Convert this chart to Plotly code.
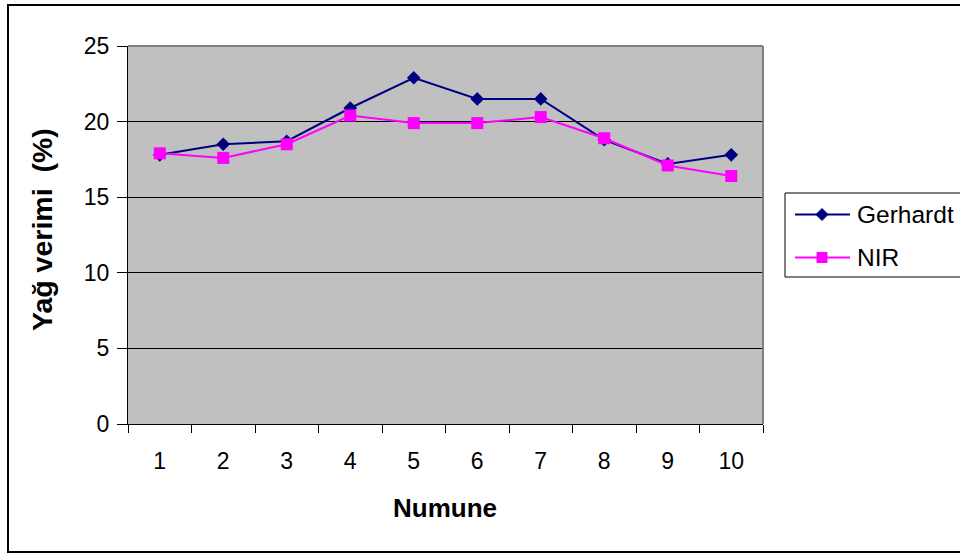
import plotly.graph_objects as go

categories = ["1", "2", "3", "4", "5", "6", "7", "8", "9", "10"]
gerhardt = [17.8, 18.5, 18.7, 20.9, 22.9, 21.5, 21.5, 18.8, 17.2, 17.8]
nir = [17.9, 17.6, 18.5, 20.4, 19.9, 19.9, 20.3, 18.9, 17.1, 16.4]
y_ticks = [0, 5, 10, 15, 20, 25]
series_names = ["Gerhardt", "NIR"]
series_colors = ["#000080", "#FF00FF"]

W, H = 960, 554
L, R, T, B = 128, 763, 46, 424

def px_x(px):
    return (px - L) / (R - L)

def px_y(py):
    return (B - py) / (B - T)

fig = go.Figure()
fig.add_trace(go.Scatter(
    x=categories, y=gerhardt, name=series_names[0], mode="lines+markers",
    line=dict(color=series_colors[0], width=2),
    marker=dict(symbol="diamond", size=10.5, color=series_colors[0]),
    showlegend=False,
))
fig.add_trace(go.Scatter(
    x=categories, y=nir, name=series_names[1], mode="lines+markers",
    line=dict(color=series_colors[1], width=2),
    marker=dict(symbol="square", size=12, color=series_colors[1]),
    showlegend=False,
))

font_family = "Liberation Sans, Arial, sans-serif"

# manual legend (Excel-style) --------------------------------------------
legend_shapes = [
    dict(type="rect", xref="paper", yref="paper",
         x0=px_x(785), x1=px_x(990), y0=px_y(277), y1=px_y(193),
         line=dict(color="black", width=1), fillcolor="white", layer="above"),
]
legend_annots = []
rows_y = [214.5, 257.5]
for i, (name, col) in enumerate(zip(series_names, series_colors)):
    yy = rows_y[i]
    legend_shapes.append(dict(type="line", xref="paper", yref="paper",
                              x0=px_x(795), x1=px_x(850), y0=px_y(yy), y1=px_y(yy),
                              line=dict(color=col, width=2), layer="above"))
    if i == 0:
        path = "M {} {} L {} {} L {} {} L {} {} Z".format(
            px_x(822), px_y(yy - 6), px_x(828), px_y(yy),
            px_x(822), px_y(yy + 6), px_x(816), px_y(yy))
        legend_shapes.append(dict(type="path", xref="paper", yref="paper", path=path,
                                  fillcolor=col, line=dict(color=col, width=1),
                                  layer="above"))
    else:
        legend_shapes.append(dict(type="rect", xref="paper", yref="paper",
                                  x0=px_x(817), x1=px_x(827),
                                  y0=px_y(yy + 5), y1=px_y(yy - 5),
                                  fillcolor=col, line=dict(color=col, width=1),
                                  layer="above"))
    legend_annots.append(dict(text=name, xref="paper", yref="paper",
                              x=px_x(855), y=px_y(yy), showarrow=False,
                              xanchor="left", yanchor="middle",
                              font=dict(size=24.5, color="black")))

fig.update_layout(
    width=W, height=H,
    margin=dict(l=L, r=W - R, t=T, b=H - B, pad=0),
    paper_bgcolor="white",
    plot_bgcolor="#C0C0C0",
    font=dict(family=font_family, size=23, color="black"),
    showlegend=False,
    xaxis=dict(
        type="category", range=[-0.5, 9.5], tickson="boundaries",
        ticks="outside", ticklen=8, tickcolor="black", tickwidth=1,
        showline=True, linecolor="black", linewidth=1,
        showgrid=False, zeroline=False, mirror=False,
        tickfont=dict(size=23), ticklabelstandoff=16,
    ),
    yaxis=dict(
        range=[0, 25], tickvals=y_ticks, ticktext=[str(v) for v in y_ticks],
        ticks="outside", ticklen=10, tickcolor="black", tickwidth=1,
        showline=True, linecolor="black", linewidth=1,
        showgrid=True, gridcolor="black", gridwidth=1, zeroline=False,
        tickfont=dict(size=23), ticklabelstandoff=3,
    ),
    annotations=[
        dict(text="<b>Numune</b>", xref="paper", yref="paper",
             x=px_x(445), y=px_y(508), showarrow=False,
             xanchor="center", yanchor="middle", font=dict(size=26)),
        dict(text="<b>Yağ verimi  (%)</b>", xref="paper", yref="paper",
             x=px_x(42), y=px_y(230), showarrow=False, textangle=-90,
             xanchor="center", yanchor="middle", font=dict(size=28.5)),
    ] + legend_annots,
    shapes=[
        dict(type="line", xref="paper", yref="paper", x0=0, x1=1, y0=1, y1=1,
             line=dict(color="#808080", width=2)),
        dict(type="line", xref="paper", yref="paper", x0=1, x1=1, y0=0, y1=1,
             line=dict(color="#808080", width=2)),
        dict(type="rect", xref="paper", yref="paper",
             x0=px_x(8), x1=px_x(975), y0=px_y(552), y1=px_y(5),
             line=dict(color="black", width=2), layer="below"),
    ] + legend_shapes,
)

fig.write_html("out.html")
